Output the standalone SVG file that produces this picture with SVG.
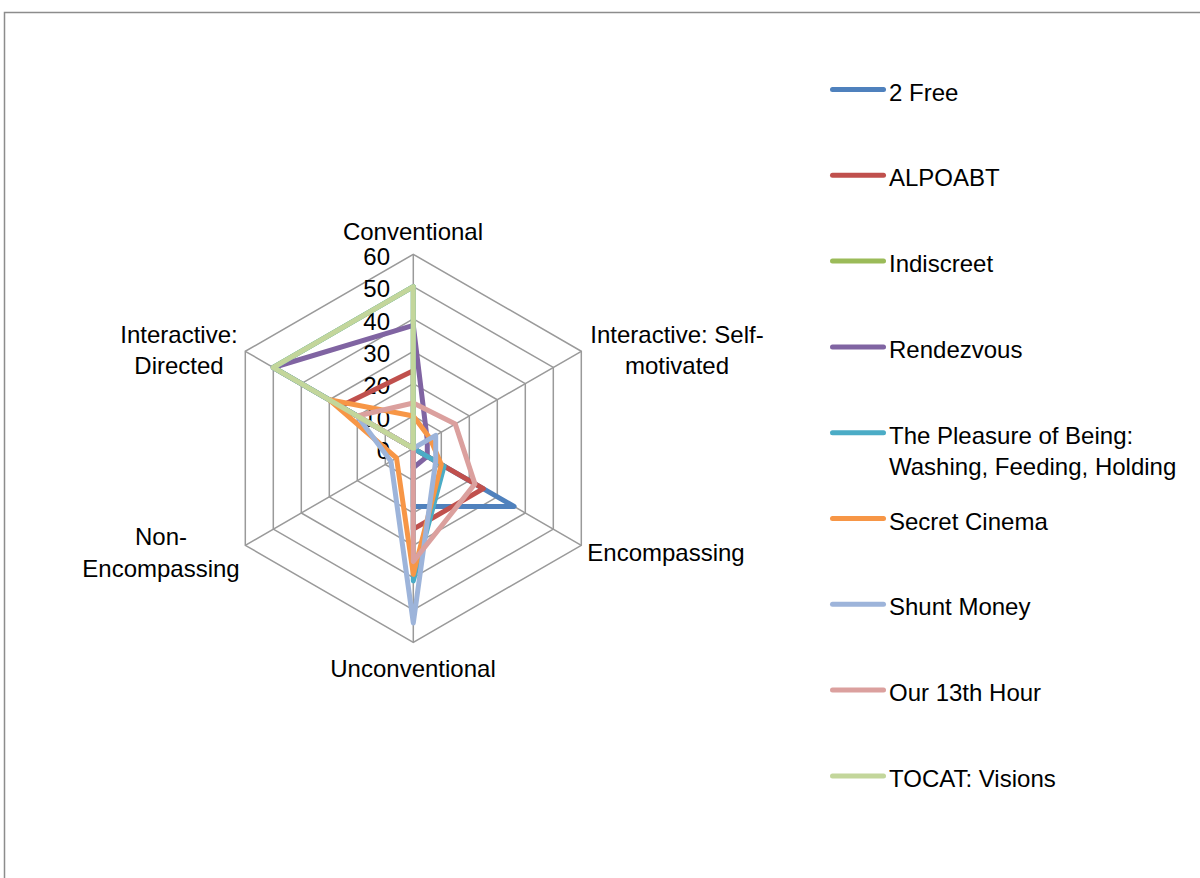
<svg xmlns="http://www.w3.org/2000/svg" width="1200" height="878" viewBox="0 0 1200 878">
  <style>
    text { font-family: "Liberation Sans", Arial, sans-serif; font-size: 24px; fill: #000; }
    .grid { fill: none; stroke: #9a9a9a; stroke-width: 1.5; }
    .series { fill: none; stroke-width: 5; stroke-linejoin: round; stroke-linecap: round; }
    .key { stroke-width: 5; stroke-linecap: round; }
    .mid { text-anchor: middle; }
    .end { text-anchor: end; }
  </style>

  <!-- chart frame -->
  <rect x="4.5" y="12.5" width="1210" height="880" fill="#fff" stroke="#8c8c8c" stroke-width="1.5"/>

  <!-- radar grid, centred on the origin of the plot -->
  <g id="grid" transform="translate(413.3,448.3)">
    <polygon class="grid" points="0,-32.33 28,-16.17 28,16.17 0,32.33 -28,16.17 -28,-16.17"/>
    <polygon class="grid" points="0,-64.67 56,-32.33 56,32.33 0,64.67 -56,32.33 -56,-32.33"/>
    <polygon class="grid" points="0,-97 84,-48.5 84,48.5 0,97 -84,48.5 -84,-48.5"/>
    <polygon class="grid" points="0,-129.33 112,-64.67 112,64.67 0,129.33 -112,64.67 -112,-64.67"/>
    <polygon class="grid" points="0,-161.67 140,-80.83 140,80.83 0,161.67 -140,80.83 -140,-80.83"/>
    <polygon class="grid" points="0,-194 168,-97 168,97 0,194 -168,97 -168,-97"/>
    <path class="grid" d="M0,0V-194M0,0L168,-97M0,0L168,97M0,0V194M0,0L-168,97M0,0L-168,-97"/>
  </g>

  <!-- value scale -->
  <g id="scale">
    <text class="end" x="390" y="265">60</text>
    <text class="end" x="390" y="297">50</text>
    <text class="end" x="390" y="329.5">40</text>
    <text class="end" x="390" y="362">30</text>
    <text class="end" x="390" y="394">20</text>
    <text class="end" x="390" y="426.7">10</text>
    <text class="end" x="390" y="459">0</text>
  </g>

  <!-- axis captions -->
  <g id="axis-conventional"><text class="mid" x="413" y="240">Conventional</text></g>
  <g id="axis-self-motivated">
    <text class="mid" x="677" y="343">Interactive: Self-</text>
    <text class="mid" x="677" y="374">motivated</text>
  </g>
  <g id="axis-encompassing"><text class="mid" x="666" y="561">Encompassing</text></g>
  <g id="axis-unconventional"><text class="mid" x="413" y="677">Unconventional</text></g>
  <g id="axis-non-encompassing">
    <text class="mid" x="161" y="545">Non-</text>
    <text class="mid" x="161" y="577">Encompassing</text>
  </g>
  <g id="axis-directed">
    <text class="mid" x="179" y="343">Interactive:</text>
    <text class="mid" x="179" y="374">Directed</text>
  </g>

  <!-- data series, axis order: Conventional, Self-motivated, Encompassing, Unconventional, Non-Encompassing, Directed -->
  <g id="series" transform="translate(413.3,448.3)">
    <polygon id="s-2free" class="series" stroke="#4F81BD" points="0,0 0,0 100.8,58.2 0,58.2 0,0 0,0"/>
    <polygon id="s-alpoabt" class="series" stroke="#C0504D" points="0,-77.6 0,0 70,40.4 0,80.8 0,0 -72.8,-42"/>
    <polygon id="s-indiscreet" class="series" stroke="#9BBB59" points="0,-161.7 0,0 0,0 0,0 0,0 -140,-80.8"/>
    <polygon id="s-rendezvous" class="series" stroke="#8064A2" points="0,-122.9 14,-8.1 14,8.1 0,19.4 0,0 -140,-80.8"/>
    <polygon id="s-pleasure" class="series" stroke="#4BACC6" points="0,-161.7 0,0 30.8,17.8 0,132.6 0,0 -140,-80.8"/>
    <polygon id="s-secret-cinema" class="series" stroke="#F79646" points="0,-32.3 16.8,-9.7 28,16.2 0,126.1 -16.8,9.7 -84,-48.5"/>
    <polygon id="s-shunt-money" class="series" stroke="#9DB4DA" points="0,0 22.4,-12.9 22.4,12.9 0,174.6 -22.4,12.9 -56,-32.3"/>
    <polygon id="s-13th-hour" class="series" stroke="#DBA09E" points="0,-45.3 42,-24.2 61.6,35.6 0,113.2 0,0 -56,-32.3"/>
    <polygon id="s-tocat" class="series" stroke="#C3D69B" points="0,-161.7 0,0 0,0 0,0 0,0 -140,-80.8"/>
  </g>

  <!-- legend -->
  <g id="legend">
    <g id="key-2free"><line class="key" x1="832.5" y1="89.5" x2="883.5" y2="89.5" stroke="#4F81BD"/><text x="889" y="100.5">2 Free</text></g>
    <g id="key-alpoabt"><line class="key" x1="832.5" y1="175.3" x2="883.5" y2="175.3" stroke="#C0504D"/><text x="889" y="186.3">ALPOABT</text></g>
    <g id="key-indiscreet"><line class="key" x1="832.5" y1="261.1" x2="883.5" y2="261.1" stroke="#9BBB59"/><text x="889" y="272.1">Indiscreet</text></g>
    <g id="key-rendezvous"><line class="key" x1="832.5" y1="346.9" x2="883.5" y2="346.9" stroke="#8064A2"/><text x="889" y="357.9">Rendezvous</text></g>
    <g id="key-pleasure"><line class="key" x1="832.5" y1="432.7" x2="883.5" y2="432.7" stroke="#4BACC6"/><text x="889" y="443.7">The Pleasure of Being:</text><text x="889" y="475.4">Washing, Feeding, Holding</text></g>
    <g id="key-secret-cinema"><line class="key" x1="832.5" y1="518.5" x2="883.5" y2="518.5" stroke="#F79646"/><text x="889" y="529.5">Secret Cinema</text></g>
    <g id="key-shunt-money"><line class="key" x1="832.5" y1="604.3" x2="883.5" y2="604.3" stroke="#9DB4DA"/><text x="889" y="615.3">Shunt Money</text></g>
    <g id="key-13th-hour"><line class="key" x1="832.5" y1="690.1" x2="883.5" y2="690.1" stroke="#DBA09E"/><text x="889" y="701.1">Our 13th Hour</text></g>
    <g id="key-tocat"><line class="key" x1="832.5" y1="775.9" x2="883.5" y2="775.9" stroke="#C3D69B"/><text x="889" y="786.9">TOCAT: Visions</text></g>
  </g>
</svg>
